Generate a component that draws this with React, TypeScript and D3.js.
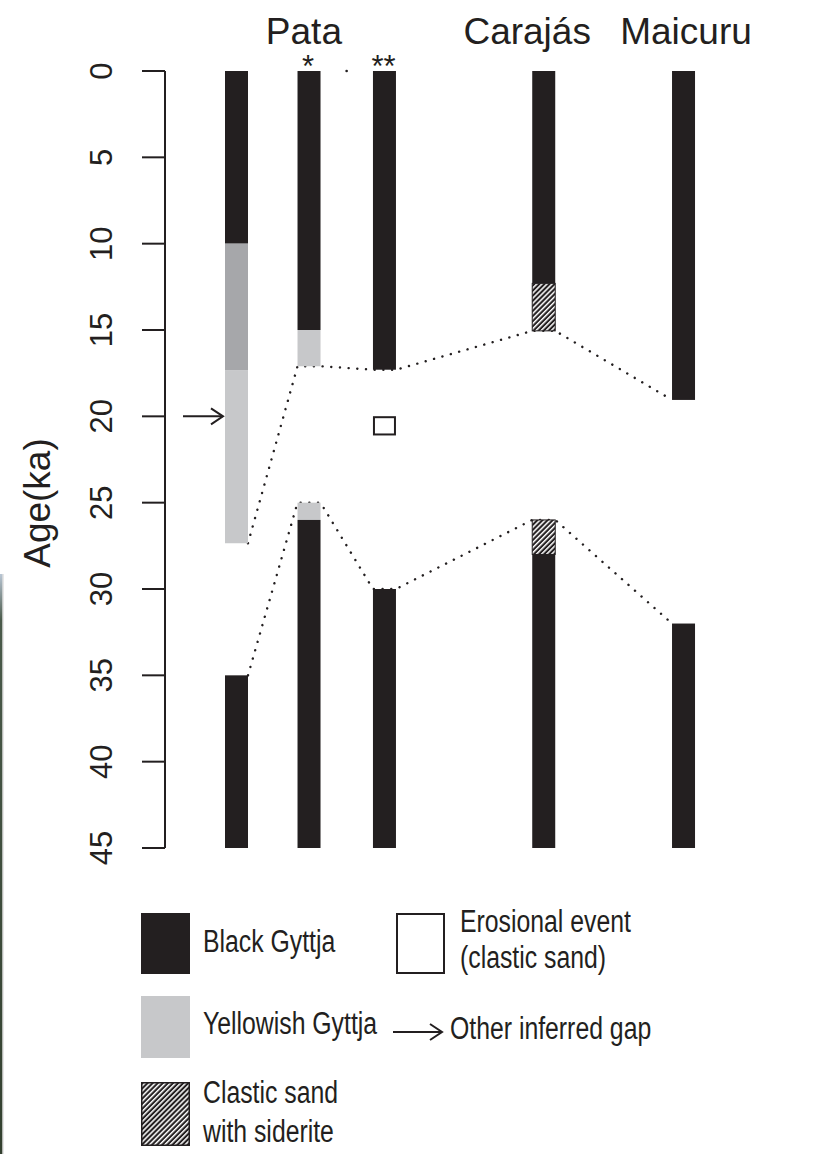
import React from "react";
import * as d3 from "d3";

const coreIds = ["c1", "c2", "c3", "c4", "c5"];
const corePos = [1, 1.968, 2.975, 5.101, 6.967];
const titles = [
  { text: "Pata", pos: 1.9 },
  { text: "Carajás", pos: 4.88 },
  { text: "Maicuru", pos: 7.0 },
];
const marks = [
  { text: "*", core: "c2" },
  { text: "**", core: "c3" },
];
const yTicks = [0, 5, 10, 15, 20, 25, 30, 35, 40, 45];

type Layer = { core: string; top: number; bottom: number; type: string };
const layers: Layer[] = [
  { core: "c1", top: 0, bottom: 10, type: "black" },
  { core: "c1", top: 10, bottom: 17.35, type: "darkgray" },
  { core: "c1", top: 17.35, bottom: 27.35, type: "yellow" },
  { core: "c1", top: 35, bottom: 45, type: "black" },
  { core: "c2", top: 0, bottom: 15, type: "black" },
  { core: "c2", top: 15, bottom: 17.1, type: "yellow" },
  { core: "c2", top: 25, bottom: 26, type: "yellow" },
  { core: "c2", top: 26, bottom: 45, type: "black" },
  { core: "c3", top: 0, bottom: 17.3, type: "black" },
  { core: "c3", top: 30, bottom: 45, type: "black" },
  { core: "c4", top: 0, bottom: 12.3, type: "black" },
  { core: "c4", top: 12.3, bottom: 15.05, type: "hatch" },
  { core: "c4", top: 26, bottom: 28, type: "hatch" },
  { core: "c4", top: 28, bottom: 45, type: "black" },
  { core: "c5", top: 0, bottom: 19.05, type: "black" },
  { core: "c5", top: 32, bottom: 45, type: "black" },
];
const erosion = [{ core: "c3", top: 20.05, bottom: 21.05 }];
const gapArrows = [{ core: "c1", age: 20 }];
// correlation lines: age at the gap boundary of each core
const upperLine = [27.35, 17.1, 17.3, 15.05, 19.05];
const lowerLine = [35, 25, 30, 26, 32];
const strayDot = [{ pos: 2.47, age: 0 }];

const BLACK = "#231f20";
const fills: Record<string, string> = {
  black: BLACK,
  darkgray: "#a6a7aa",
  yellow: "#c7c8ca",
  hatch: "url(#hatch)",
};

export default function App() {
  const W = 814;
  const H = 1154;
  const y = d3.scaleLinear().domain([0, 45]).range([71, 848]);
  const x = d3.scaleLinear().domain([1, 7]).range([236.5, 686]);
  const bw = 23;
  const cx = (core: string) => x(corePos[coreIds.indexOf(core)]);
  const font = "'Liberation Sans', Arial, sans-serif";
  const axisX = 165;

  const corrPts = (vals: number[]) => {
    const pts: [number, number][] = [];
    vals.forEach((v, i) => {
      const c = x(corePos[i]);
      if (i > 0) pts.push([c - bw / 2, y(v)]);
      if (i < vals.length - 1) pts.push([c + bw / 2, y(v)]);
    });
    return pts;
  };
  const line = d3.line();

  const legendText = (t: string, lx: number, ly: number) => (
    <text
      transform={`translate(${lx},${ly}) scale(0.8,1)`}
      fontSize={31}
      fontFamily={font}
      fill={BLACK}
    >
      {t}
    </text>
  );

  return (
    <svg
      width={W}
      height={H}
      style={{ position: "absolute", left: 0, top: 0, background: "#fff" }}
    >
      <defs>
        <pattern
          id="hatch"
          width="3.6"
          height="3.6"
          patternUnits="userSpaceOnUse"
          patternTransform="rotate(45)"
        >
          <rect width="3.6" height="3.6" fill={BLACK} />
          <rect x="0" width="1.5" height="3.6" fill="#ffffff" />
        </pattern>
        <linearGradient id="edge" x1="0" y1="0" x2="0" y2="1">
          <stop offset="0" stopColor="#b9c6d4" />
          <stop offset="0.08" stopColor="#4a5a4a" />
          <stop offset="1" stopColor="#33402f" />
        </linearGradient>
      </defs>

      {/* left edge strip artifact */}
      <rect x={0} y={574} width={2.5} height={H - 574} fill="url(#edge)" />
      <rect x={2.5} y={574} width={1} height={H - 574} fill="#cfcfcf" />

      {/* y axis */}
      <line x1={axisX} x2={axisX} y1={y(0)} y2={y(45)} stroke={BLACK} strokeWidth={2} />
      {yTicks.map((t) => (
        <g key={t}>
          <line x1={142} x2={axisX} y1={y(t)} y2={y(t)} stroke={BLACK} strokeWidth={2} />
          <text
            transform={`translate(112,${y(t)}) rotate(-90)`}
            textAnchor="middle"
            fontSize={31}
            fontFamily={font}
            fill={BLACK}
          >
            {t}
          </text>
        </g>
      ))}
      <text
        transform={`translate(50,503) rotate(-90)`}
        textAnchor="middle"
        fontSize={37}
        fontFamily={font}
        fill={BLACK}
      >
        Age(ka)
      </text>

      {/* titles */}
      {titles.map((t) => (
        <text
          key={t.text}
          x={x(t.pos)}
          y={44}
          textAnchor="middle"
          fontSize={37}
          fontFamily={font}
          fill={BLACK}
        >
          {t.text}
        </text>
      ))}
      {marks.map((m) => (
        <text
          key={m.core}
          x={cx(m.core) - 1}
          y={77}
          textAnchor="middle"
          fontSize={31}
          fontFamily={font}
          fill={BLACK}
        >
          {m.text}
        </text>
      ))}
      {strayDot.map((d, i) => (
        <circle key={i} cx={x(d.pos)} cy={y(d.age)} r={1.3} fill={BLACK} />
      ))}

      {/* correlation dotted lines */}
      {[upperLine, lowerLine].map((vals, i) => (
        <path
          key={i}
          d={line(corrPts(vals)) || ""}
          fill="none"
          stroke={BLACK}
          strokeWidth={2.4}
          strokeLinecap="round"
          strokeDasharray="0.1 8.6"
        />
      ))}

      {/* core layers */}
      {layers.map((l, i) => (
        <rect
          key={i}
          x={cx(l.core) - bw / 2}
          y={y(l.top)}
          width={bw}
          height={y(l.bottom) - y(l.top)}
          fill={fills[l.type]}
          stroke={l.type === "hatch" ? BLACK : "none"}
          strokeWidth={l.type === "hatch" ? 1 : 0}
        />
      ))}
      {erosion.map((e, i) => (
        <rect
          key={i}
          x={cx(e.core) - bw / 2 + 1}
          y={y(e.top)}
          width={bw - 2}
          height={y(e.bottom) - y(e.top)}
          fill="#fff"
          stroke={BLACK}
          strokeWidth={2}
        />
      ))}
      {gapArrows.map((a, i) => {
        const ay = y(a.age);
        const tipX = cx(a.core) - bw / 2 - 2;
        return (
          <g key={i} stroke={BLACK} strokeWidth={2} fill="none">
            <line x1={183} x2={tipX} y1={ay} y2={ay} />
            <path d={`M${tipX - 12},${ay - 8} L${tipX},${ay} L${tipX - 12},${ay + 8}`} />
          </g>
        );
      })}

      {/* legend */}
      <rect x={141} y={913} width={49} height={61} fill={BLACK} />
      {legendText("Black Gyttja", 203, 952)}
      <rect x={141} y={996} width={49} height={62} fill={fills.yellow} />
      {legendText("Yellowish Gyttja", 203, 1034)}
      <rect x={141.75} y={1082.75} width={47.5} height={62.5} fill="url(#hatch)" stroke={BLACK} strokeWidth={1.5} />
      {legendText("Clastic sand", 203, 1103)}
      {legendText("with siderite", 203, 1142)}
      <rect x={397} y={914} width={47} height={59} fill="#fff" stroke={BLACK} strokeWidth={2} />
      {legendText("Erosional event", 460, 932)}
      {legendText("(clastic sand)", 460, 968)}
      <g stroke={BLACK} strokeWidth={2} fill="none">
        <line x1={393} x2={442} y1={1032} y2={1032} />
        <path d="M430,1024 L442,1032 L430,1040" />
      </g>
      {legendText("Other inferred gap", 450, 1039)}
    </svg>
  );
}
